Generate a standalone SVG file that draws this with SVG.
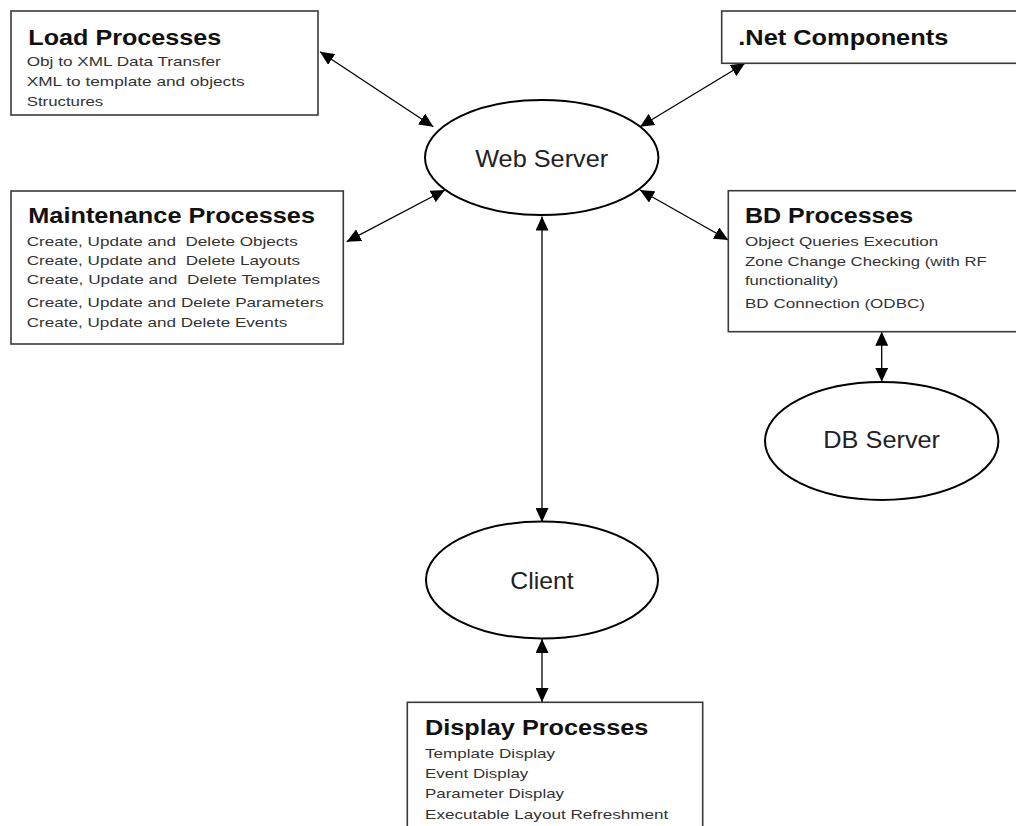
<svg xmlns="http://www.w3.org/2000/svg" width="1016" height="826" viewBox="0 0 1016 826">
<style>
.box{fill:#fff;stroke:#3a3a3a;stroke-width:1.6}
.ell{fill:#fff;stroke:#000;stroke-width:2}
.title{font-family:"Liberation Sans",Arial,sans-serif;font-weight:bold;font-size:22px;fill:#111}
.body{font-family:"Liberation Sans",Arial,sans-serif;font-size:13.5px;fill:#333}
.lbl{font-family:"Liberation Sans",Arial,sans-serif;font-size:24px;fill:#222;text-anchor:middle}
.con line{stroke:#000;stroke-width:1.3;marker-start:url(#ah);marker-end:url(#ah)}
</style>
<defs>
<marker id="ah" markerUnits="userSpaceOnUse" markerWidth="15" markerHeight="13" refX="14" refY="6.5" orient="auto-start-reverse" viewBox="0 0 15 13">
<path d="M0,0 L14,6.5 L0,13 z" fill="#000"/>
</marker>
</defs>
<rect width="1016" height="826" fill="#fff"/>

<g class="con" id="connectors">
<line x1="320" y1="51.7" x2="433.3" y2="126.7"/>
<line x1="745" y1="63.3" x2="640" y2="126.7"/>
<line x1="346.7" y1="241.7" x2="445" y2="190"/>
<line x1="728.3" y1="240" x2="640" y2="190"/>
<line x1="542" y1="216.5" x2="542" y2="522"/>
<line x1="542" y1="639" x2="542" y2="702"/>
<line x1="881.7" y1="331.7" x2="881.7" y2="381.7"/>
</g>

<g id="load">
<rect class="box" x="11" y="11" width="307" height="104"/>
<text class="title" x="28.3" y="45" textLength="193" lengthAdjust="spacingAndGlyphs">Load Processes</text>
<text class="body" x="26.7" y="66" textLength="194" lengthAdjust="spacingAndGlyphs">Obj to XML Data Transfer</text>
<text class="body" x="26.7" y="85.5" textLength="218" lengthAdjust="spacingAndGlyphs">XML to template and objects</text>
<text class="body" x="26.7" y="106" textLength="76.6" lengthAdjust="spacingAndGlyphs">Structures</text>
</g>

<g id="net">
<rect class="box" x="721.7" y="11" width="300" height="52.3"/>
<text class="title" x="738.3" y="45" textLength="210" lengthAdjust="spacingAndGlyphs">.Net Components</text>
</g>

<g id="maint">
<rect class="box" x="11" y="191" width="332.3" height="153"/>
<text class="title" x="28.3" y="223.3" textLength="286.7" lengthAdjust="spacingAndGlyphs">Maintenance Processes</text>
<text class="body" x="26.7" y="245.5" textLength="271" lengthAdjust="spacingAndGlyphs" xml:space="preserve">Create, Update and  Delete Objects</text>
<text class="body" x="26.7" y="265" textLength="273.3" lengthAdjust="spacingAndGlyphs" xml:space="preserve">Create, Update and  Delete Layouts</text>
<text class="body" x="26.7" y="284" textLength="293.5" lengthAdjust="spacingAndGlyphs" xml:space="preserve">Create, Update and  Delete Templates</text>
<text class="body" x="26.7" y="306.5" textLength="297" lengthAdjust="spacingAndGlyphs">Create, Update and Delete Parameters</text>
<text class="body" x="26.7" y="326.5" textLength="260.5" lengthAdjust="spacingAndGlyphs">Create, Update and Delete Events</text>
</g>

<g id="bd">
<rect class="box" x="728.3" y="190.7" width="300" height="141"/>
<text class="title" x="745" y="223.3" textLength="168.3" lengthAdjust="spacingAndGlyphs">BD Processes</text>
<text class="body" x="745" y="245.7" textLength="193.3" lengthAdjust="spacingAndGlyphs">Object Queries Execution</text>
<text class="body" x="745" y="265.7" textLength="241.7" lengthAdjust="spacingAndGlyphs">Zone Change Checking (with RF</text>
<text class="body" x="745" y="285" textLength="93.3" lengthAdjust="spacingAndGlyphs">functionality)</text>
<text class="body" x="745" y="308.3" textLength="180" lengthAdjust="spacingAndGlyphs">BD Connection (ODBC)</text>
</g>

<g id="display">
<rect class="box" x="407.3" y="702.3" width="295.4" height="130"/>
<text class="title" x="425" y="735" textLength="223.3" lengthAdjust="spacingAndGlyphs">Display Processes</text>
<text class="body" x="425" y="758.3" textLength="130" lengthAdjust="spacingAndGlyphs">Template Display</text>
<text class="body" x="425" y="778.3" textLength="103.3" lengthAdjust="spacingAndGlyphs">Event Display</text>
<text class="body" x="425" y="798.3" textLength="139" lengthAdjust="spacingAndGlyphs">Parameter Display</text>
<text class="body" x="425" y="819.3" textLength="243.3" lengthAdjust="spacingAndGlyphs">Executable Layout Refreshment</text>
</g>

<g id="webserver">
<ellipse class="ell" cx="541.7" cy="157.5" rx="116.7" ry="57.5"/>
<text class="lbl" x="541.7" y="167.3" textLength="133" lengthAdjust="spacingAndGlyphs">Web Server</text>
</g>

<g id="dbserver">
<ellipse class="ell" cx="881.7" cy="441" rx="116.7" ry="59"/>
<text class="lbl" x="881.7" y="448.3" textLength="116.7" lengthAdjust="spacingAndGlyphs">DB Server</text>
</g>

<g id="client">
<ellipse class="ell" cx="542" cy="580" rx="116" ry="58.5"/>
<text class="lbl" x="542" y="589.3" textLength="63.3" lengthAdjust="spacingAndGlyphs">Client</text>
</g>
</svg>
